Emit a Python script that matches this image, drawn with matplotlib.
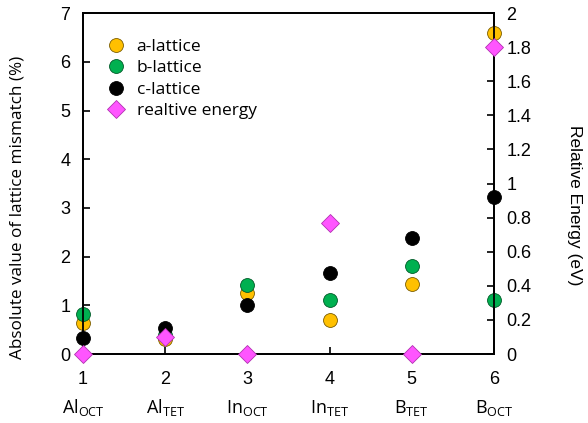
import matplotlib
matplotlib.use("Agg")
import matplotlib.pyplot as plt

# lattice mismatch (%) and relative energy (eV) for each dopant site
sites = [1, 2, 3, 4, 5, 6]
site_labels = [("Al", "OCT"), ("Al", "TET"), ("In", "OCT"), ("In", "TET"), ("B", "TET"), ("B", "OCT")]
a_lattice = [0.64, 0.30, 1.26, 0.70, 1.44, 6.59]
b_lattice = [0.83, 0.40, 1.42, 1.10, 1.80, 1.10]
c_lattice = [0.33, 0.53, 1.01, 1.67, 2.38, 3.22]
rel_energy = [0.0, 0.10, 0.0, 0.77, 0.0, 1.80]

label_font = "Open Sans"
tick_font = "Liberation Sans"

fig = plt.figure(figsize=(5.88, 4.23), dpi=100)
ax = fig.add_axes([0.141, 0.163, 0.699, 0.806])
ax2 = ax.twinx()

ms = 10
ax.plot(sites, a_lattice, "o", ms=ms, mfc="#FFC000", mec="#7a5c00", mew=0.6,
        label="a-lattice", clip_on=False, zorder=3)
ax.plot(sites, b_lattice, "o", ms=ms, mfc="#00B050", mec="#005a28", mew=0.6,
        label="b-lattice", clip_on=False, zorder=3)
ax.plot(sites, c_lattice, "o", ms=ms, mfc="black", mec="black", mew=0.6,
        label="c-lattice", clip_on=False, zorder=3)
ax2.plot(sites, rel_energy, "D", ms=9.5, mfc="#FF55FF", mec="#b030b0", mew=0.6,
         label="realtive energy", clip_on=False, zorder=4)

ax.set_xlim(1, 6)
ax.set_ylim(0, 7)
ax2.set_ylim(0, 2)
ax.set_xticks(sites)
ax.set_yticks(range(0, 8))
ax2.set_yticks([0, 0.2, 0.4, 0.6, 0.8, 1, 1.2, 1.4, 1.6, 1.8, 2])
ax2.set_yticklabels(["0", "0.2", "0.4", "0.6", "0.8", "1", "1.2", "1.4", "1.6", "1.8", "2"])

for a in (ax, ax2):
    for s in a.spines.values():
        s.set_linewidth(1.3)
    a.tick_params(direction="in", length=5, width=1.2, labelsize=13, pad=12)
    for t in a.get_xticklabels() + a.get_yticklabels():
        t.set_fontfamily(tick_font)
ax.tick_params(axis="y", pad=9)
ax2.tick_params(axis="y", pad=9)

ax.set_ylabel("Absolute value of lattice mismatch (%)", fontsize=12.3,
              fontfamily=label_font, va="center")
ax.yaxis.set_label_coords(-0.158, 0.43)
ax2.set_ylabel("Relative Energy (eV)", fontsize=12.5, fontfamily=tick_font,
               rotation=-90, va="center")
ax2.yaxis.set_label_coords(1.197, 0.436)

# site names with subscripts below the numeric ticks
for x, (el, sub) in zip(sites, site_labels):
    ax.text(x, -0.158, el + "$_{\\mathregular{" + sub + "}}$", transform=ax.get_xaxis_transform(),
            ha="center", va="center", fontsize=13, fontfamily=label_font)

h1, l1 = ax.get_legend_handles_labels()
h2, l2 = ax2.get_legend_handles_labels()
leg = ax.legend(h1 + h2, l1 + l2, loc="upper left", bbox_to_anchor=(0.0, 0.97),
                frameon=False, handletextpad=0.2, labelspacing=0.3,
                prop={"family": label_font, "size": 12.5})
leg.set_zorder(5)

fig.savefig("out.png", dpi=100)
